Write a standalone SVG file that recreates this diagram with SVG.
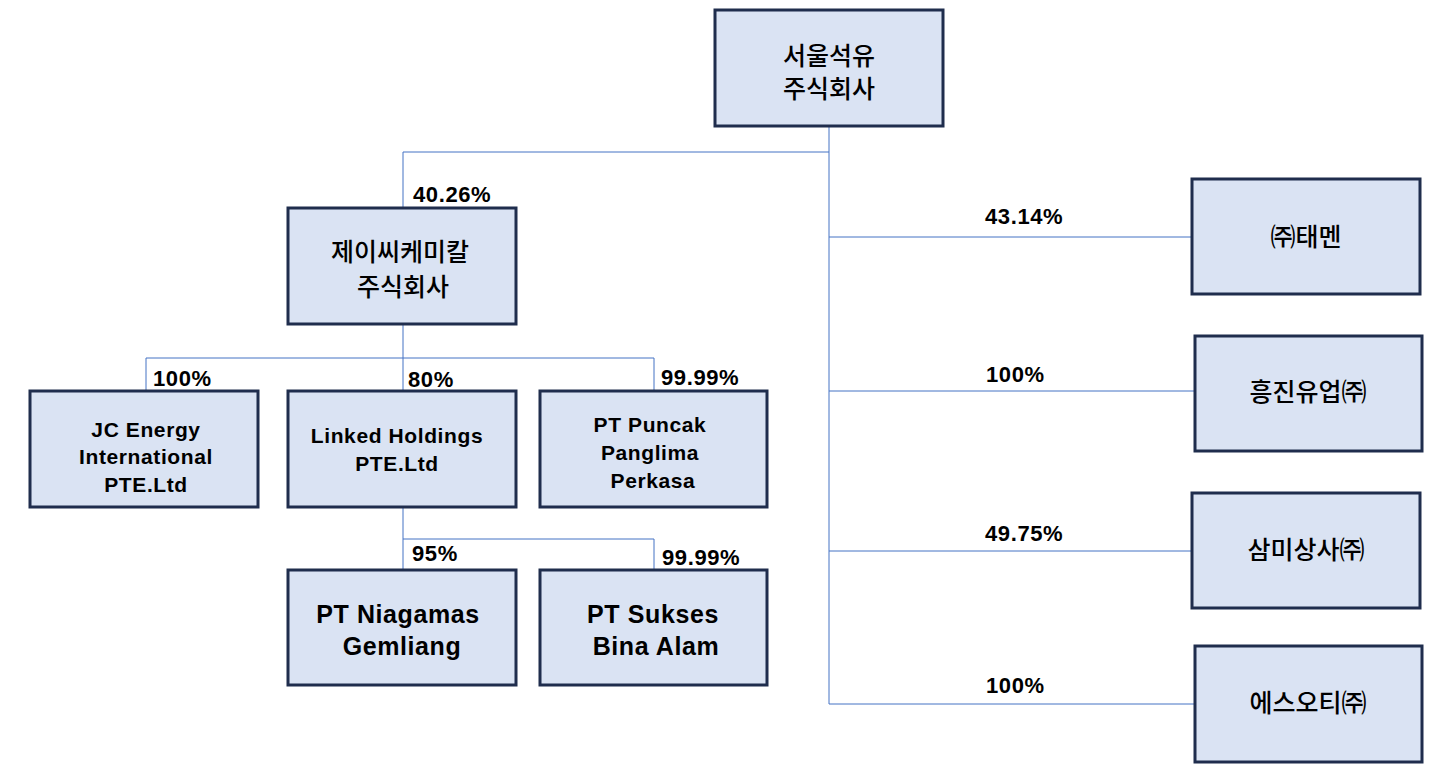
<svg xmlns="http://www.w3.org/2000/svg" width="1451" height="768" viewBox="0 0 1451 768">
<style>
.b{fill:#dae3f3;stroke:#1f2d4d;stroke-width:3}
.k{font-family:"Noto Sans CJK KR","Liberation Sans",sans-serif;font-size:25px;font-weight:500;fill:#000;text-anchor:middle}
.e{font-family:"Liberation Sans",sans-serif;font-size:21px;font-weight:bold;letter-spacing:0.6px;fill:#000;text-anchor:middle}
.e2{font-family:"Liberation Sans",sans-serif;font-size:25px;font-weight:bold;letter-spacing:0.6px;fill:#000;text-anchor:middle}
.p{font-family:"Liberation Sans",sans-serif;font-size:22px;font-weight:bold;letter-spacing:0.6px;fill:#000}
.c{stroke:#4472c4;stroke-width:1;fill:none}
</style>
<rect width="1451" height="768" fill="#fff"/>
<g id="connectors">
<path class="c" d="M829 126V704M403 152H829M403 152V208M829 237H1192M829 391H1195M829 551H1192M829 704H1195M403 324V391M146 358H654M146 358V391M654 358V391M403 507V570M403 539H654M654 539V570"/>
</g>
<g id="labels">
<text class="p" x="413" y="202">40.26%</text>
<text class="p" x="985" y="224">43.14%</text>
<text class="p" x="986" y="382">100%</text>
<text class="p" x="985" y="541">49.75%</text>
<text class="p" x="986" y="693">100%</text>
<text class="p" x="153" y="386">100%</text>
<text class="p" x="408" y="387">80%</text>
<text class="p" x="661" y="385">99.99%</text>
<text class="p" x="412" y="561">95%</text>
<text class="p" x="662" y="565">99.99%</text>
</g>
<g id="n-seoul"><rect class="b" x="715" y="10" width="228" height="116"/><text class="k" x="829" y="65">서울석유</text><text class="k" x="829" y="98">주식회사</text></g>
<g id="n-jc"><rect class="b" x="288" y="208" width="228" height="116"/><text class="k" x="400" y="261">제이씨케미칼</text><text class="k" x="403" y="296">주식회사</text></g>
<g id="n-jce"><rect class="b" x="30" y="391" width="228" height="116"/><text class="e" x="146" y="437">JC Energy</text><text class="e" x="146" y="464">International</text><text class="e" x="146" y="492">PTE.Ltd</text></g>
<g id="n-linked"><rect class="b" x="288" y="391" width="228" height="116"/><text class="e" x="397" y="443">Linked Holdings</text><text class="e" x="397" y="471">PTE.Ltd</text></g>
<g id="n-puncak"><rect class="b" x="540" y="391" width="227" height="116"/><text class="e" x="650" y="432">PT Puncak</text><text class="e" x="650" y="460">Panglima</text><text class="e" x="653" y="488">Perkasa</text></g>
<g id="n-niagamas"><rect class="b" x="288" y="570" width="228" height="115"/><text class="e2" x="398" y="623">PT Niagamas</text><text class="e2" x="402" y="655">Gemliang</text></g>
<g id="n-sukses"><rect class="b" x="540" y="570" width="227" height="115"/><text class="e2" x="653" y="623">PT Sukses</text><text class="e2" x="656" y="655">Bina Alam</text></g>
<g id="n-taemen"><rect class="b" x="1192" y="179" width="228" height="115"/><text class="k" x="1306" y="246">㈜태멘</text></g>
<g id="n-heungjin"><rect class="b" x="1195" y="336" width="227" height="115"/><text class="k" x="1308" y="401">흥진유업㈜</text></g>
<g id="n-sammi"><rect class="b" x="1192" y="493" width="228" height="115"/><text class="k" x="1306" y="559">삼미상사㈜</text></g>
<g id="n-esot"><rect class="b" x="1195" y="646" width="227" height="116"/><text class="k" x="1308" y="712">에스오티㈜</text></g>
</svg>
